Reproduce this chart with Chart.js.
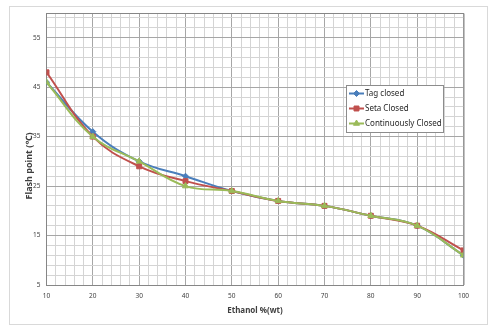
<!DOCTYPE html>
<html>
<head>
<meta charset="utf-8">
<script src="https://cdn.jsdelivr.net/npm/chart.js@4.4.0/dist/chart.umd.min.js"></script>
<style>
  html, body { margin: 0; padding: 0; background: #fff; }
  #wrap { width: 491px; height: 326px; }
</style>
</head>
<body>
<div id="wrap"><canvas id="flashChart" width="491" height="326"></canvas></div>
<script>
// ethanol content (% wt)
const ethanol = [10, 20, 30, 40, 50, 60, 70, 80, 90, 100];
// flash point values per method
const tagClosed = [46, 36, 30, 27, 24, 22, 21, 19, 17, 11];
const setaClosed = [48, 35, 29, 26, 24, 22, 21, 19, 17, 12];
const contClosed = [46, 35, 30, 25, 24, 22, 21, 19, 17, 11];

const xTickLabels = [10, 20, 30, 40, 50, 60, 70, 80, 90, 100];
const yTickLabels = [5, 15, 25, 35, 45, 55];

const toPoints = vals => vals.map((v, i) => ({ x: ethanol[i], y: v }));

const MAJOR = "#a6a6a6";
const MINOR = "#d4d4d4";
const FRAME = "#868686";

// Excel-style frame, floating legend and axis titles
const decorations = {
    id: "decorations",
    beforeDraw(chart) {
        const ctx = chart.ctx;
        ctx.save();
        ctx.fillStyle = "#fff";
        ctx.fillRect(0, 0, chart.width, chart.height);
        ctx.strokeStyle = "#d9d9d9";
        ctx.lineWidth = 1;
        ctx.strokeRect(9.5, 6.5, 478, 318);
        ctx.restore();
    },
    afterDatasetsDraw(chart) {
        const ctx = chart.ctx;
        const area = chart.chartArea;
        ctx.save();
        // top and right edge of the plot
        ctx.strokeStyle = FRAME;
        ctx.lineWidth = 1;
        ctx.beginPath();
        ctx.moveTo(area.left, area.top + 0.5);
        ctx.lineTo(area.right + 0.5, area.top + 0.5);
        ctx.lineTo(area.right + 0.5, area.bottom);
        ctx.stroke();

        // legend box
        ctx.fillStyle = "#fff";
        ctx.fillRect(346, 85, 97, 47);
        ctx.strokeStyle = "#8c8c8c";
        ctx.strokeRect(346.5, 85.5, 97, 47);

        const rows = [93.5, 108.5, 123.5];
        chart.data.datasets.forEach((ds, i) => {
            const y = rows[i];
            ctx.strokeStyle = ds.borderColor;
            ctx.fillStyle = ds.borderColor;
            ctx.lineWidth = 2;
            ctx.beginPath();
            ctx.moveTo(349, y);
            ctx.lineTo(364, y);
            ctx.stroke();
            ctx.lineWidth = 1;
            Chart.helpers.drawPoint(ctx, {
                pointStyle: ds.pointStyle,
                radius: ds.pointRadius,
                borderWidth: 1
            }, 356.5, y);
            ctx.fillStyle = "#262626";
            ctx.font = "8px 'Noto Sans'";
            ctx.textBaseline = "middle";
            ctx.textAlign = "left";
            ctx.fillText(ds.label, 365, y);
        });

        // axis titles
        ctx.fillStyle = "#404040";
        ctx.font = "bold 8px 'Noto Sans'";
        ctx.textAlign = "center";
        ctx.textBaseline = "middle";
        ctx.fillText("Ethanol %(wt)", (area.left + area.right) / 2, 311);
        ctx.translate(29, 166);
        ctx.rotate(-Math.PI / 2);
        ctx.font = "bold 9px 'Noto Sans'";
        ctx.fillText("Flash point (\u2103)", 0, 0);
        ctx.restore();
    }
};

function makeSeries(label, vals, color, style, radius, order) {
    return {
        label: label,
        data: toPoints(vals),
        borderColor: color,
        backgroundColor: color,
        pointBackgroundColor: color,
        pointBorderColor: color,
        pointStyle: style,
        pointRadius: radius,
        pointBorderWidth: 1,
        borderWidth: 2,
        tension: 0.4,
        order: order
    };
}

const ctx = document.getElementById("flashChart").getContext("2d");
new Chart(ctx, {
    type: "line",
    data: {
        datasets: [
            makeSeries("Tag closed", tagClosed, "#4a7ebb", "rectRot", 3, 3),
            makeSeries("Seta Closed", setaClosed, "#c0504d", "rect", 3.5, 2),
            makeSeries("Continuously Closed", contClosed, "#9bbb59", "triangle", 3.5, 1)
        ]
    },
    options: {
        responsive: false,
        animation: false,
        layout: { padding: { left: 0, top: 13, right: 27.5, bottom: 0 } },
        plugins: { legend: { display: false }, tooltip: { enabled: false } },
        scales: {
            x: {
                type: "linear",
                min: 10,
                max: 100,
                afterBuildTicks: s => {
                    const t = [];
                    for (let v = 10; v <= 100; v += 2) t.push({ value: v });
                    s.ticks = t;
                },
                afterFit: s => { s.height = 41; },
                ticks: {
                    autoSkip: false,
                    maxRotation: 0,
                    padding: 7,
                    color: "#404040",
                    font: { family: "'Noto Sans'", size: 6.5 },
                    callback: v => xTickLabels.includes(v) ? String(v) : ""
                },
                grid: {
                    drawTicks: false,
                    color: c => xTickLabels.includes(c.tick && c.tick.value) ? MAJOR : MINOR
                },
                border: { color: FRAME }
            },
            y: {
                min: 5,
                max: 60,
                afterBuildTicks: s => {
                    const t = [];
                    for (let v = 5; v < 60; v += 2) t.push({ value: v });
                    t.push({ value: 60 });
                    s.ticks = t;
                },
                afterFit: s => { s.width = 46.5; },
                ticks: {
                    autoSkip: false,
                    padding: 6,
                    color: "#404040",
                    font: { family: "'Noto Sans'", size: 6.5 },
                    callback: v => yTickLabels.includes(v) ? String(v) : ""
                },
                grid: {
                    drawTicks: false,
                    color: c => yTickLabels.includes(c.tick && c.tick.value) ? MAJOR : MINOR
                },
                border: { color: FRAME }
            }
        }
    },
    plugins: [decorations]
});
</script>
</body>
</html>
